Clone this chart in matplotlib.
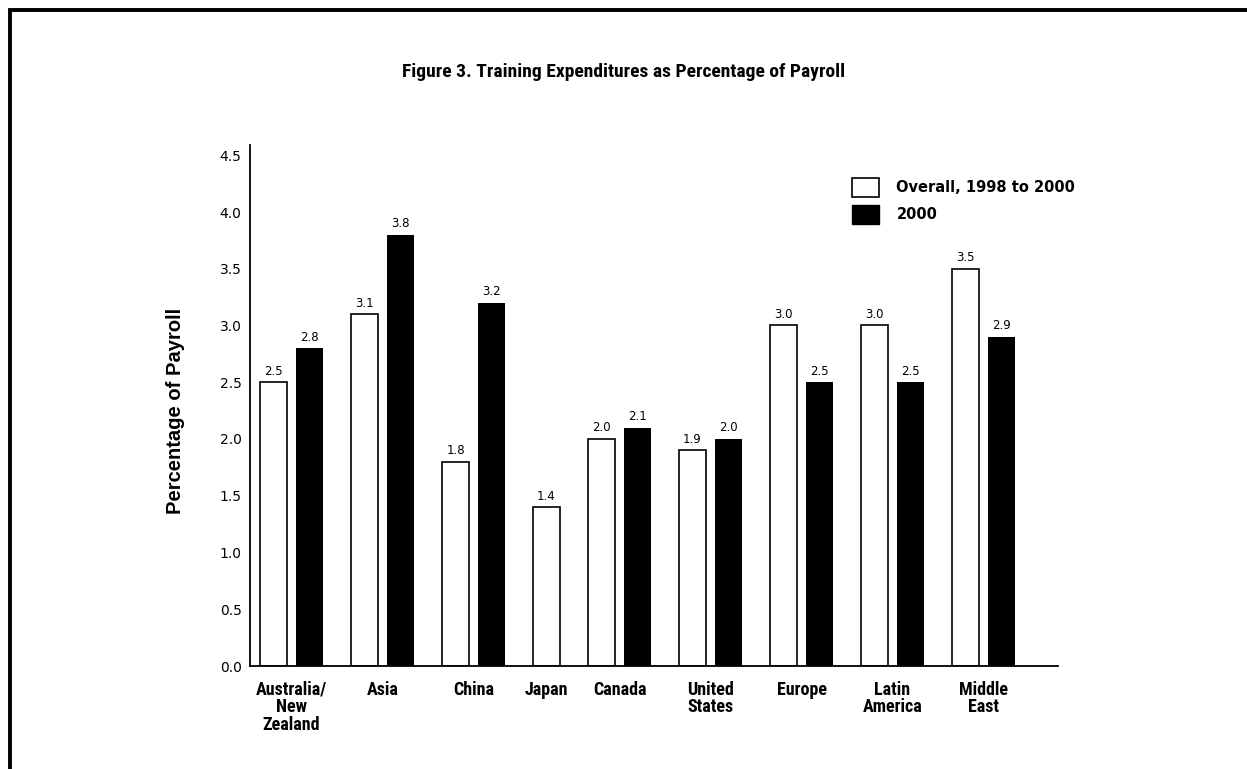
import matplotlib
matplotlib.use("Agg")
import matplotlib.pyplot as plt
from matplotlib import font_manager
from matplotlib.patches import Patch, Rectangle

# Training expenditures as a percentage of payroll, by region
regions = ["Australia/\nNew\nZealand", "Asia", "China", "Japan", "Canada",
           "United\nStates", "Europe", "Latin\nAmerica", "Middle\nEast"]
overall_1998_2000 = [2.5, 3.1, 1.8, 1.4, 2.0, 1.9, 3.0, 3.0, 3.5]
year_2000 = [2.8, 3.8, 3.2, None, 2.1, 2.0, 2.5, 2.5, 2.9]
series_labels = ["Overall, 1998 to 2000", "2000"]
y_ticks = [0.0, 0.5, 1.0, 1.5, 2.0, 2.5, 3.0, 3.5, 4.0, 4.5]

installed = {f.name for f in font_manager.fontManager.ttflist}
narrow_choices = ["Liberation Sans Narrow", "Roboto Condensed",
                  "DejaVu Sans Condensed", "Open Sans Condensed",
                  "Liberation Sans"]
NARROW = next((n for n in narrow_choices if n in installed), "DejaVu Sans")
IS_CONDENSED = NARROW != "Liberation Sans"
ARIAL = ["Liberation Sans", "DejaVu Sans"]

W, H, DPI = 1247, 769, 100
fig = plt.figure(figsize=(W / DPI, H / DPI), dpi=DPI)
fig.patch.set_facecolor("white")

# axes box in pixel terms: x 250..1058, y 145..666
ax = fig.add_axes([250 / W, 1 - 666 / H, 808 / W, (666 - 145) / H])

# horizontal layout (x axis in pixel-like units)
bar_w, inner_gap, group_gap, pad_left = 27, 9, 28, 10
x = pad_left
centers = []
for a, b in zip(overall_1998_2000, year_2000):
    ax.bar(x, a, width=bar_w, align="edge", facecolor="white",
           edgecolor="black", linewidth=1.2, zorder=2)
    ax.text(x + bar_w / 2, a + 0.04, f"{a:.1f}", ha="center", va="bottom",
            fontsize=8.5, family="DejaVu Sans", zorder=3)
    n = 1
    if b is not None:
        xb = x + bar_w + inner_gap
        ax.bar(xb, b, width=bar_w, align="edge", color="black",
               edgecolor="black", linewidth=0, zorder=2)
        ax.text(xb + bar_w / 2, b + 0.04, f"{b:.1f}", ha="center",
                va="bottom", fontsize=8.5, family="DejaVu Sans", zorder=3)
        n = 2
    span = n * bar_w + (n - 1) * inner_gap
    centers.append(x + span / 2)
    x += span + group_gap

ax.set_xlim(0, 808)
ax.set_ylim(0, (666 - 145) / 113.5)

cat_size = 13 if IS_CONDENSED else 11
ax.set_yticks(y_ticks)
ax.set_yticklabels([f"{t:.1f}" for t in y_ticks], fontsize=10,
                   family="DejaVu Sans")
ax.set_xticks(centers)
ax.set_xticklabels(regions, fontsize=cat_size, fontweight="bold",
                   family=[NARROW, "DejaVu Sans"], linespacing=0.98)
ax.tick_params(axis="y", length=0, pad=6)
ax.tick_params(axis="x", length=0, pad=10.5)

for side in ("top", "right"):
    ax.spines[side].set_visible(False)
for side in ("left", "bottom"):
    ax.spines[side].set_linewidth(1.3)

# legend
handles = [Patch(facecolor="white", edgecolor="black", linewidth=1.2),
           Patch(facecolor="black", edgecolor="black")]
ax.legend(handles, series_labels, loc="upper left",
          bbox_to_anchor=(852 / W, 1 - 178 / H),
          bbox_transform=fig.transFigure, frameon=False,
          borderpad=0, borderaxespad=0, handlelength=1.85,
          handleheight=1.65, labelspacing=0.5, handletextpad=1.2,
          prop={"family": "DejaVu Sans", "weight": "bold", "size": 10.5})

title_size = 14 if IS_CONDENSED else 12
fig.text(624 / W, 1 - 72 / H,
         "Figure 3. Training Expenditures as Percentage of Payroll",
         ha="center", va="center", fontsize=title_size, fontweight="bold",
         family=[NARROW, "DejaVu Sans"])
fig.text(175 / W, 1 - 411 / H, "Percentage of Payroll", rotation=90,
         ha="center", va="center", fontsize=14.5, fontweight="bold",
         family=ARIAL)

# page frame (top and left edges visible)
fig.add_artist(Rectangle((10 / W, -0.2), 1.2, 1.2 - 10 / H,
                         transform=fig.transFigure, fill=False,
                         edgecolor="black", linewidth=2.8))

fig.savefig("out.png", dpi=DPI, facecolor="white")
